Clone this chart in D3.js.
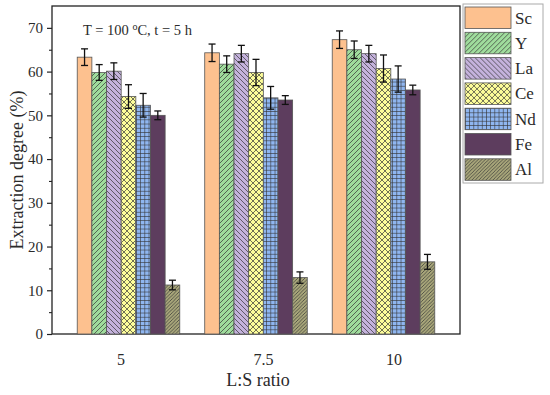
<!DOCTYPE html>
<html>
<head>
<meta charset="utf-8">
<script src="https://cdn.jsdelivr.net/npm/d3@7"></script>
<style>
  body { margin: 0; background: #fff; }
  text { font-family: "Liberation Serif", "DejaVu Serif", serif; fill: #2a2a2a; }
</style>
</head>
<body>
<script>
// data
var ratios = ["5", "7.5", "10"];
var elements = ["Sc", "Y", "La", "Ce", "Nd", "Fe", "Al"];
var values = {
  Sc: [63.3, 64.3, 67.3],
  Y:  [59.8, 61.7, 65.0],
  La: [60.1, 64.1, 64.1],
  Ce: [54.3, 59.8, 60.7],
  Nd: [52.3, 54.0, 58.3],
  Fe: [50.0, 53.5, 55.8],
  Al: [11.2, 12.9, 16.5]
};
var errors = {
  Sc: [1.9, 2.0, 2.0],
  Y:  [1.8, 1.9, 2.0],
  La: [1.9, 1.9, 1.9],
  Ce: [2.7, 3.0, 3.1],
  Nd: [2.7, 2.6, 3.0],
  Fe: [1.0, 1.0, 1.1],
  Al: [1.1, 1.3, 1.7]
};
var yTicks = [0, 10, 20, 30, 40, 50, 60, 70];

var colors = {
  Sc: "#fdc18f", Y: "#9fdc9c", La: "#c4b2dc", Ce: "#fdfd9a",
  Nd: "#8fb6f0", Fe: "#5d3d5e", Al: "#a8a67a"
};

var svgWidth = 550, svgHeight = 395;
var margin = { top: 6, right: 90, bottom: 61, left: 52 };
var width = svgWidth - margin.left - margin.right;
var height = svgHeight - margin.top - margin.bottom;

var svg = d3.select("body").append("svg")
  .attr("width", svgWidth)
  .attr("height", svgHeight);

// fill patterns
var defs = svg.append("defs");
function hatch(id, bg, size, lines) {
  var p = defs.append("pattern")
    .attr("id", id)
    .attr("patternUnits", "userSpaceOnUse")
    .attr("width", size).attr("height", size);
  p.append("rect").attr("width", size).attr("height", size).attr("fill", bg);
  lines.forEach(function(l) {
    p.append("path").attr("d", l)
      .attr("stroke", "#333").attr("stroke-width", 0.7).attr("fill", "none");
  });
}
hatch("pY", colors.Y, 5, ["M0,5 L5,0", "M-1,1 L1,-1", "M4,6 L6,4"]);
hatch("pLa", colors.La, 5, ["M0,0 L5,5", "M-1,4 L1,6", "M4,-1 L6,1"]);
hatch("pCe", colors.Ce, 6, ["M0,0 L6,6", "M0,6 L6,0"]);
hatch("pNd", colors.Nd, 4.2, ["M0,0.3 L4.2,0.3", "M0.3,0 L0.3,4.2"]);
hatch("pAl", colors.Al, 3.5, ["M0,3.5 L3.5,0", "M-1,1 L1,-1", "M2.5,4.5 L4.5,2.5"]);

var fills = {
  Sc: colors.Sc, Y: "url(#pY)", La: "url(#pLa)", Ce: "url(#pCe)",
  Nd: "url(#pNd)", Fe: colors.Fe, Al: "url(#pAl)"
};

var group = svg.append("g")
  .attr("transform", `translate(${margin.left}, ${margin.top})`);

var xScale = d3.scalePoint().domain(ratios).range([0, width]).padding(0.6);
var barW = 14.65;
var xInner = d3.scaleBand().domain(elements)
  .range([-barW * 3.5, barW * 3.5]).padding(0);
var yScale = d3.scaleLinear().domain([0, 75]).range([height, 0]);

// frame
group.append("rect")
  .attr("width", width).attr("height", height)
  .attr("fill", "none").attr("stroke", "#222").attr("stroke-width", 1.3);

// bars
elements.forEach(function(el) {
  var g = group.append("g");
  var rows = ratios.map(function(r, i) {
    return { r: r, v: values[el][i], e: errors[el][i] };
  });
  g.selectAll("rect").data(rows).enter().append("rect")
    .attr("x", function(d) { return xScale(d.r) + xInner(el); })
    .attr("y", function(d) { return yScale(d.v); })
    .attr("width", xInner.bandwidth())
    .attr("height", function(d) { return height - yScale(d.v); })
    .attr("fill", fills[el])
    .attr("stroke", "#555").attr("stroke-width", 0.8);

  var eb = g.selectAll("g.err").data(rows).enter().append("g")
    .attr("transform", function(d) {
      return "translate(" + (xScale(d.r) + xInner(el) + xInner.bandwidth() / 2) + ",0)";
    })
    .attr("stroke", "#111").attr("stroke-width", 1.3);
  eb.append("line")
    .attr("y1", function(d) { return yScale(d.v + d.e); })
    .attr("y2", function(d) { return yScale(d.v - d.e); });
  eb.append("line").attr("x1", -3.5).attr("x2", 3.5)
    .attr("y1", function(d) { return yScale(d.v + d.e); })
    .attr("y2", function(d) { return yScale(d.v + d.e); });
  eb.append("line").attr("x1", -3.5).attr("x2", 3.5)
    .attr("y1", function(d) { return yScale(d.v - d.e); })
    .attr("y2", function(d) { return yScale(d.v - d.e); });
});

// y axis
var leftAxis = d3.axisLeft(yScale).tickValues(yTicks).tickSize(5).tickPadding(4);
var yAxisG = group.append("g").call(leftAxis);
yAxisG.select(".domain").remove();
yAxisG.selectAll("line").attr("stroke", "#222").attr("stroke-width", 1.2);
yAxisG.selectAll("text").style("font-size", "15px").attr("fill", "#333");
// minor ticks
group.append("g")
  .call(d3.axisLeft(yScale).tickValues([5, 15, 25, 35, 45, 55, 65]).tickSize(3).tickFormat(""))
  .call(function(g) { g.select(".domain").remove(); })
  .selectAll("line").attr("stroke", "#222").attr("stroke-width", 1.1);

// x axis labels
var bottomAxis = d3.axisBottom(xScale).tickSize(0).tickPadding(20);
var xAxisG = group.append("g")
  .attr("transform", "translate(0," + height + ")")
  .call(bottomAxis);
xAxisG.select(".domain").remove();
xAxisG.selectAll("text").style("font-size", "16px").attr("fill", "#333")
  .attr("dx", function(d, i) { return [ -8, 7, 10 ][i]; });

// axis titles
svg.append("text")
  .attr("transform", "rotate(-90)")
  .attr("x", -170).attr("y", 23)
  .attr("text-anchor", "middle")
  .style("font-size", "18px")
  .text("Extraction degree (%)");
svg.append("text")
  .attr("x", 258).attr("y", 386)
  .attr("text-anchor", "middle")
  .style("font-size", "18px")
  .text("L:S ratio");

// condition note
var note = svg.append("text").attr("x", 83).attr("y", 35).style("font-size", "14.5px");
note.append("tspan").text("T = 100 ");
note.append("tspan").attr("dy", -5).style("font-size", "10px").text("o");
note.append("tspan").attr("dy", 5).text("C, t = 5 h");

// legend
var legend = svg.append("g").attr("transform", "translate(463,4)");
legend.append("rect").attr("width", 80).attr("height", 179)
  .attr("fill", "#fff").attr("stroke", "#aaa").attr("stroke-width", 1);
var items = legend.selectAll("g.item").data(elements).enter().append("g")
  .attr("transform", function(d, i) { return "translate(2," + (3 + i * 25.3) + ")"; });
items.append("rect")
  .attr("width", 46).attr("height", 21.5)
  .attr("fill", function(d) { return fills[d]; })
  .attr("stroke", "#555").attr("stroke-width", 0.8);
items.append("text")
  .attr("x", 50).attr("y", 16.5)
  .style("font-size", "17px")
  .text(function(d) { return d; });
</script>
</body>
</html>
